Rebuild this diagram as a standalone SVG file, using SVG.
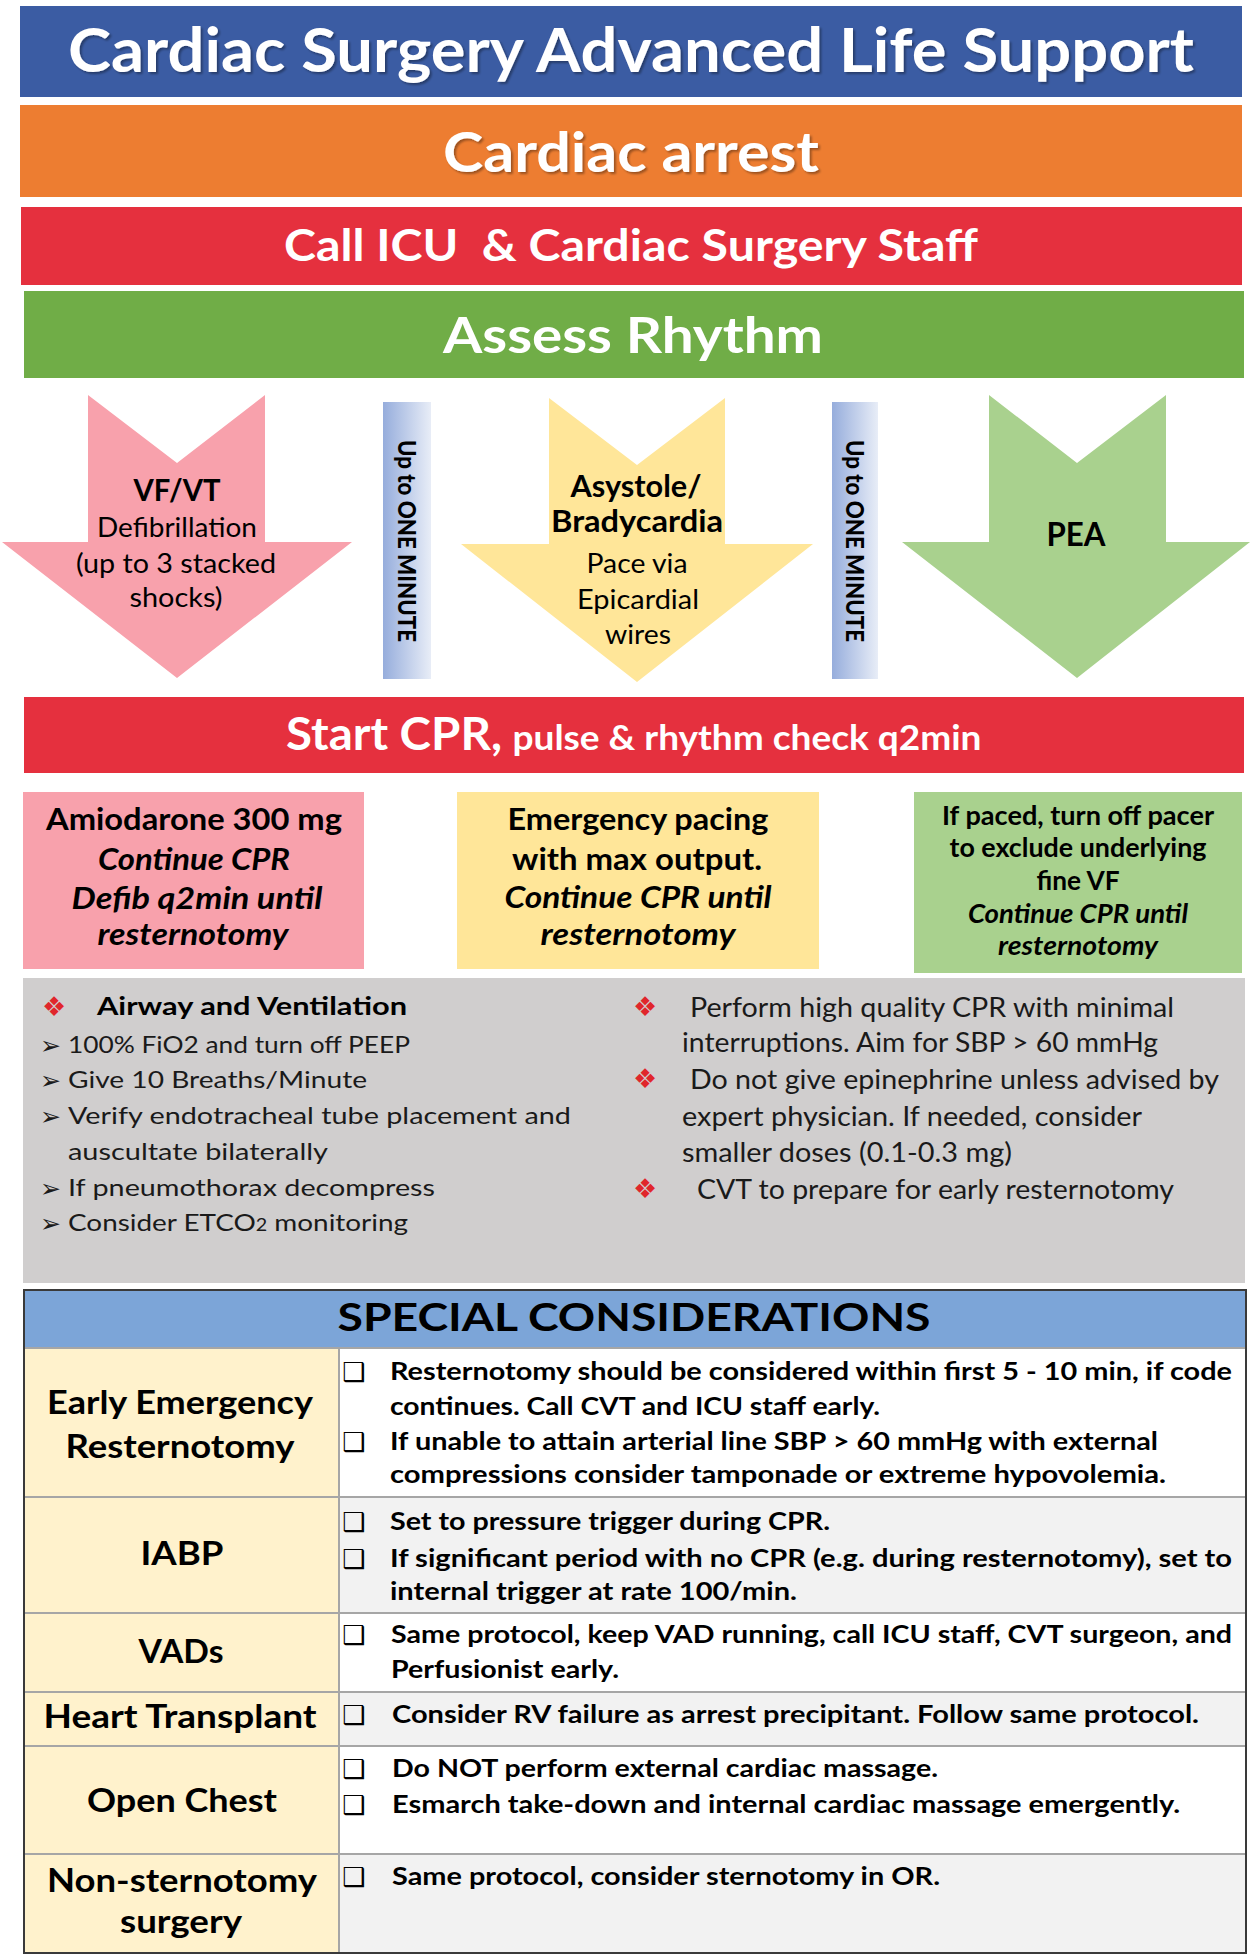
<svg xmlns="http://www.w3.org/2000/svg" width="1250" height="1955" viewBox="0 0 1250 1955">
<defs>
  <linearGradient id="barGrad" x1="0" y1="0" x2="1" y2="0">
    <stop offset="0" stop-color="#96ADDC"/>
    <stop offset="1" stop-color="#E8EDF7"/>
  </linearGradient>
  <filter id="shadow" x="-5%" y="-30%" width="110%" height="160%">
    <feDropShadow dx="2" dy="2" stdDeviation="1.2" flood-color="#000" flood-opacity="0.35"/>
  </filter>
</defs>
<style>
  text { font-family: Lato, "Open Sans", "DejaVu Sans", sans-serif; fill:#000; }
  .hdr { fill:#fff; font-weight:700; text-anchor:middle; }
  .b { font-weight:700; }
  .bi { font-weight:700; font-style:italic; }
  .c { text-anchor:middle; }
  .arrowtxt { font-size:27px; }
  .box { font-size:31px; }
  .gbox { font-size:26px; }
  .graytxt { font-size:24px; fill:#1a1a1a; }
  .graytxtR { font-size:26px; fill:#1a1a1a; }
  .dia { font-family:"DejaVu Sans", sans-serif; font-size:27px; fill:#E0262B; }
  .arw { font-family:"DejaVu Sans", sans-serif; font-size:25px; fill:#1a1a1a; }
  .chk { font-family:"DejaVu Sans", sans-serif; font-size:26px; font-weight:700; fill:#000; }
  .lbl { font-size:33px; font-weight:700; text-anchor:middle; }
  .row { font-size:24px; font-weight:700; }
  .vbar text { font-size:24px; font-weight:900; text-anchor:middle; }
</style>
<rect x="0" y="0" width="1250" height="1955" fill="#fff"/>

<g id="title">
  <rect x="20" y="6" width="1222" height="91" fill="#3B5CA3"/>
  <text class="hdr" x="631" y="72" font-size="61" textLength="1126" lengthAdjust="spacingAndGlyphs" filter="url(#shadow)">Cardiac Surgery Advanced Life Support</text>
</g>
<g id="cardiac-arrest">
  <rect x="20" y="105" width="1222" height="92" fill="#ED7D31"/>
  <text class="hdr" x="631" y="172" font-size="56" textLength="376" lengthAdjust="spacingAndGlyphs" filter="url(#shadow)">Cardiac arrest</text>
</g>
<g id="call-icu">
  <rect x="21" y="207" width="1221" height="78" fill="#E5303E"/>
  <text class="hdr" x="631" y="261" font-size="43" textLength="694" lengthAdjust="spacingAndGlyphs" xml:space="preserve">Call ICU  &amp; Cardiac Surgery Staff</text>
</g>
<g id="assess-rhythm">
  <rect x="24" y="291" width="1220" height="87" fill="#70AD47"/>
  <text class="hdr" x="633" y="353" font-size="50" textLength="380" lengthAdjust="spacingAndGlyphs">Assess Rhythm</text>
</g>

<g id="connectors">
  <g id="arrow-vfvt">
    <polygon points="88,395 177,463 265,395 265,542 352,542 177,678 2,542 88,542" fill="#F8A1AC"/>
  </g>
  <g id="arrow-asystole">
    <polygon points="549,398 637,465 725,398 725,544 813,544 637,682 461,544 549,544" fill="#FFE699"/>
  </g>
  <g id="arrow-pea">
    <polygon points="989,395 1077,463 1166,395 1166,542 1250,542 1077,678 902,542 989,542" fill="#A9D18E"/>
  </g>
</g>

<g id="node-vfvt">
  <text class="b c" x="177" y="501" font-size="30" textLength="87" lengthAdjust="spacingAndGlyphs">VF/VT</text>
  <text class="arrowtxt c" x="177" y="537" textLength="160" lengthAdjust="spacingAndGlyphs">Defibrillation</text>
  <text class="arrowtxt c" x="176" y="573" textLength="200" lengthAdjust="spacingAndGlyphs">(up to 3 stacked</text>
  <text class="arrowtxt c" x="176" y="607" textLength="93" lengthAdjust="spacingAndGlyphs">shocks)</text>
</g>
<g id="node-asystole">
  <text class="b c" x="636" y="497" font-size="31" textLength="131" lengthAdjust="spacingAndGlyphs">Asystole/</text>
  <text class="b c" x="637" y="532" font-size="31" textLength="172" lengthAdjust="spacingAndGlyphs">Bradycardia</text>
  <text class="arrowtxt c" x="637" y="573" textLength="101" lengthAdjust="spacingAndGlyphs">Pace via</text>
  <text class="arrowtxt c" x="638" y="609" textLength="122" lengthAdjust="spacingAndGlyphs">Epicardial</text>
  <text class="arrowtxt c" x="638" y="644" textLength="66" lengthAdjust="spacingAndGlyphs">wires</text>
</g>
<g id="node-pea">
  <text class="b c" x="1076" y="546" font-size="32" textLength="59" lengthAdjust="spacingAndGlyphs">PEA</text>
</g>

<g id="timer-1" class="vbar">
  <rect x="383" y="402" width="48" height="277" fill="url(#barGrad)"/>
  <text x="407" y="550" transform="rotate(90 407 541)" textLength="202" lengthAdjust="spacingAndGlyphs">Up to ONE MINUTE</text>
</g>
<g id="timer-2" class="vbar">
  <rect x="832" y="402" width="46" height="277" fill="url(#barGrad)"/>
  <text x="855" y="550" transform="rotate(90 855 541)" textLength="202" lengthAdjust="spacingAndGlyphs">Up to ONE MINUTE</text>
</g>

<g id="start-cpr">
  <rect x="24" y="697" width="1220" height="76" fill="#E5303E"/>
  <text class="hdr" x="394" y="750" font-size="46" textLength="216" lengthAdjust="spacingAndGlyphs">Start CPR,</text>
  <text class="hdr" x="747" y="750" font-size="35" textLength="469" lengthAdjust="spacingAndGlyphs">pulse &amp; rhythm check q2min</text>
</g>

<g id="box-vfvt">
  <rect x="23" y="792" width="341" height="177" fill="#F8A1AC"/>
  <text class="box b c" x="194" y="830" textLength="296" lengthAdjust="spacingAndGlyphs">Amiodarone 300 mg</text>
  <text class="box bi c" x="194" y="870" textLength="192" lengthAdjust="spacingAndGlyphs">Continue CPR</text>
  <text class="box bi c" x="197" y="909" textLength="251" lengthAdjust="spacingAndGlyphs">Defib q2min until</text>
  <text class="box bi c" x="193" y="945" textLength="191" lengthAdjust="spacingAndGlyphs">resternotomy</text>
</g>
<g id="box-asystole">
  <rect x="457" y="792" width="362" height="177" fill="#FFE699"/>
  <text class="box b c" x="638" y="830" textLength="261" lengthAdjust="spacingAndGlyphs">Emergency pacing</text>
  <text class="box b c" x="637" y="870" textLength="250" lengthAdjust="spacingAndGlyphs">with max output.</text>
  <text class="box bi c" x="638" y="908" textLength="267" lengthAdjust="spacingAndGlyphs">Continue CPR until</text>
  <text class="box bi c" x="638" y="945" textLength="195" lengthAdjust="spacingAndGlyphs">resternotomy</text>
</g>
<g id="box-pea">
  <rect x="914" y="792" width="328" height="181" fill="#A9D18E"/>
  <text class="gbox b c" x="1078" y="825" textLength="272" lengthAdjust="spacingAndGlyphs">If paced, turn off pacer</text>
  <text class="gbox b c" x="1078" y="857" textLength="257" lengthAdjust="spacingAndGlyphs">to exclude underlying</text>
  <text class="gbox b c" x="1078" y="890" textLength="83" lengthAdjust="spacingAndGlyphs">fine VF</text>
  <text class="gbox bi c" x="1078" y="923" textLength="220" lengthAdjust="spacingAndGlyphs">Continue CPR until</text>
  <text class="gbox bi c" x="1078" y="955" textLength="160" lengthAdjust="spacingAndGlyphs">resternotomy</text>
</g>

<g id="general-measures">
  <rect x="23" y="978" width="1222" height="305" fill="#D0CECE"/>
  <text class="dia" x="42" y="1016">❖</text>
  <text class="b" x="97" y="1015" font-size="25" textLength="310" lengthAdjust="spacingAndGlyphs">Airway and Ventilation</text>
  <text class="arw" x="40" y="1054">➢</text>
  <text class="graytxt" x="68" y="1053" textLength="342" lengthAdjust="spacingAndGlyphs">100% FiO2 and turn off PEEP</text>
  <text class="arw" x="40" y="1089">➢</text>
  <text class="graytxt" x="68" y="1088" textLength="299" lengthAdjust="spacingAndGlyphs">Give 10 Breaths/Minute</text>
  <text class="arw" x="40" y="1125">➢</text>
  <text class="graytxt" x="68" y="1124" textLength="503" lengthAdjust="spacingAndGlyphs">Verify endotracheal tube placement and</text>
  <text class="graytxt" x="68" y="1160" textLength="260" lengthAdjust="spacingAndGlyphs">auscultate bilaterally</text>
  <text class="arw" x="40" y="1197">➢</text>
  <text class="graytxt" x="68" y="1196" textLength="367" lengthAdjust="spacingAndGlyphs">If pneumothorax decompress</text>
  <text class="arw" x="40" y="1232">➢</text>
  <text class="graytxt" x="68" y="1231" textLength="340" lengthAdjust="spacingAndGlyphs">Consider ETCO<tspan font-size="17">2</tspan> monitoring</text>

  <text class="dia" x="633" y="1016">❖</text>
  <text class="graytxtR" x="690" y="1017" textLength="484" lengthAdjust="spacingAndGlyphs">Perform high quality CPR with minimal</text>
  <text class="graytxtR" x="682" y="1052" textLength="476" lengthAdjust="spacingAndGlyphs">interruptions. Aim for SBP &gt; 60 mmHg</text>
  <text class="dia" x="633" y="1088">❖</text>
  <text class="graytxtR" x="690" y="1089" textLength="529" lengthAdjust="spacingAndGlyphs">Do not give epinephrine unless advised by</text>
  <text class="graytxtR" x="682" y="1126" textLength="460" lengthAdjust="spacingAndGlyphs">expert physician. If needed, consider</text>
  <text class="graytxtR" x="682" y="1162" textLength="330" lengthAdjust="spacingAndGlyphs">smaller doses (0.1-0.3 mg)</text>
  <text class="dia" x="633" y="1198">❖</text>
  <text class="graytxtR" x="697" y="1199" textLength="477" lengthAdjust="spacingAndGlyphs">CVT to prepare for early resternotomy</text>
</g>

<g id="special-considerations">
  <rect x="24" y="1290" width="1222" height="58" fill="#7CA5D8"/>
  <rect x="24" y="1348" width="315" height="605" fill="#FFF2CC"/>
  <rect x="339" y="1348" width="907" height="149" fill="#FFFFFF"/>
  <rect x="339" y="1497" width="907" height="116" fill="#F2F2F2"/>
  <rect x="339" y="1613" width="907" height="79" fill="#FFFFFF"/>
  <rect x="339" y="1692" width="907" height="54" fill="#F2F2F2"/>
  <rect x="339" y="1746" width="907" height="108" fill="#FFFFFF"/>
  <rect x="339" y="1854" width="907" height="99" fill="#F2F2F2"/>
  <g stroke="#A6A6A6" stroke-width="2">
    <line x1="24" y1="1348" x2="1246" y2="1348"/>
    <line x1="24" y1="1497" x2="1246" y2="1497"/>
    <line x1="24" y1="1613" x2="1246" y2="1613"/>
    <line x1="24" y1="1692" x2="1246" y2="1692"/>
    <line x1="24" y1="1746" x2="1246" y2="1746"/>
    <line x1="24" y1="1854" x2="1246" y2="1854"/>
    <line x1="339" y1="1348" x2="339" y2="1953"/>
  </g>
  <rect x="24" y="1290" width="1222" height="663" fill="none" stroke="#3A3A3A" stroke-width="2"/>
  <text x="634" y="1331" font-family="'Liberation Sans', Arial, sans-serif" font-weight="700" font-size="39" text-anchor="middle" textLength="593" lengthAdjust="spacingAndGlyphs">SPECIAL CONSIDERATIONS</text>
</g>

<g id="row-resternotomy">
  <text class="lbl" x="180" y="1414" textLength="266" lengthAdjust="spacingAndGlyphs">Early Emergency</text>
  <text class="lbl" x="180" y="1458" textLength="229" lengthAdjust="spacingAndGlyphs">Resternotomy</text>
  <text class="chk" x="342" y="1381">❑</text>
  <text class="row" x="390" y="1380" textLength="842" lengthAdjust="spacingAndGlyphs">Resternotomy should be considered within first 5 - 10 min, if code</text>
  <text class="row" x="390" y="1415" textLength="490" lengthAdjust="spacingAndGlyphs">continues. Call CVT and ICU staff early.</text>
  <text class="chk" x="342" y="1451">❑</text>
  <text class="row" x="390" y="1450" textLength="768" lengthAdjust="spacingAndGlyphs">If unable to attain arterial line SBP &gt; 60 mmHg with external</text>
  <text class="row" x="390" y="1483" textLength="776" lengthAdjust="spacingAndGlyphs">compressions consider tamponade or extreme hypovolemia.</text>
</g>
<g id="row-iabp">
  <text class="lbl" x="182" y="1565" textLength="83" lengthAdjust="spacingAndGlyphs">IABP</text>
  <text class="chk" x="342" y="1531">❑</text>
  <text class="row" x="390" y="1530" textLength="440" lengthAdjust="spacingAndGlyphs">Set to pressure trigger during CPR.</text>
  <text class="chk" x="342" y="1568">❑</text>
  <text class="row" x="390" y="1567" textLength="842" lengthAdjust="spacingAndGlyphs">If significant period with no CPR (e.g. during resternotomy), set to</text>
  <text class="row" x="390" y="1600" textLength="407" lengthAdjust="spacingAndGlyphs">internal trigger at rate 100/min.</text>
</g>
<g id="row-vads">
  <text class="lbl" x="181" y="1663" textLength="85" lengthAdjust="spacingAndGlyphs">VADs</text>
  <text class="chk" x="342" y="1644">❑</text>
  <text class="row" x="391" y="1643" textLength="841" lengthAdjust="spacingAndGlyphs">Same protocol, keep VAD running, call ICU staff, CVT surgeon, and</text>
  <text class="row" x="391" y="1678" textLength="228" lengthAdjust="spacingAndGlyphs">Perfusionist early.</text>
</g>
<g id="row-transplant">
  <text class="lbl" x="180" y="1728" textLength="273" lengthAdjust="spacingAndGlyphs">Heart Transplant</text>
  <text class="chk" x="342" y="1724">❑</text>
  <text class="row" x="392" y="1723" textLength="807" lengthAdjust="spacingAndGlyphs">Consider RV failure as arrest precipitant. Follow same protocol.</text>
</g>
<g id="row-open-chest">
  <text class="lbl" x="182" y="1812" textLength="190" lengthAdjust="spacingAndGlyphs">Open Chest</text>
  <text class="chk" x="342" y="1778">❑</text>
  <text class="row" x="392" y="1777" textLength="546" lengthAdjust="spacingAndGlyphs">Do NOT perform external cardiac massage.</text>
  <text class="chk" x="342" y="1814">❑</text>
  <text class="row" x="392" y="1813" textLength="788" lengthAdjust="spacingAndGlyphs">Esmarch take-down and internal cardiac massage emergently.</text>
</g>
<g id="row-non-sternotomy">
  <text class="lbl" x="182" y="1892" textLength="270" lengthAdjust="spacingAndGlyphs">Non-sternotomy</text>
  <text class="lbl" x="181" y="1933" textLength="122" lengthAdjust="spacingAndGlyphs">surgery</text>
  <text class="chk" x="342" y="1886">❑</text>
  <text class="row" x="392" y="1885" textLength="548" lengthAdjust="spacingAndGlyphs">Same protocol, consider sternotomy in OR.</text>
</g>
</svg>
